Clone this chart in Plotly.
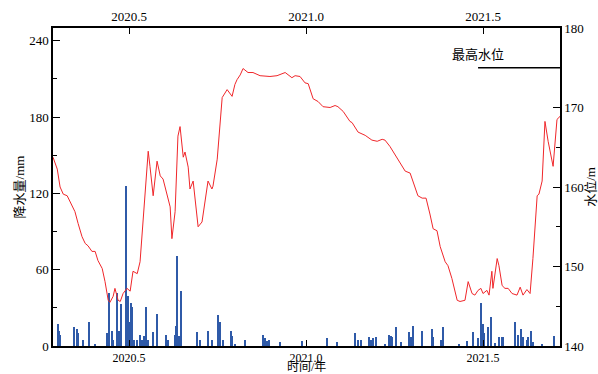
import plotly.graph_objects as go

# ---- water level (m), time in decimal years ----
level_t = [2020.285, 2020.297, 2020.305, 2020.314, 2020.325, 2020.333, 2020.347, 2020.356, 2020.367, 2020.376,
           2020.384, 2020.395, 2020.404, 2020.412, 2020.424, 2020.432, 2020.441, 2020.446, 2020.455, 2020.460,
           2020.469, 2020.475, 2020.483, 2020.494, 2020.503, 2020.511, 2020.523, 2020.531, 2020.540, 2020.551,
           2020.554, 2020.559, 2020.568, 2020.579, 2020.588, 2020.596, 2020.607, 2020.616, 2020.621, 2020.630,
           2020.638, 2020.644, 2020.653, 2020.658, 2020.667, 2020.672, 2020.681, 2020.692, 2020.695, 2020.706,
           2020.715, 2020.723, 2020.734, 2020.737, 2020.749, 2020.757, 2020.763, 2020.777, 2020.791, 2020.799,
           2020.805, 2020.814, 2020.822, 2020.836, 2020.850, 2020.870, 2020.898, 2020.918, 2020.941, 2020.960,
           2020.969, 2020.983, 2020.997, 2021.006, 2021.020, 2021.034, 2021.048, 2021.068, 2021.082, 2021.090,
           2021.105, 2021.124, 2021.130, 2021.147, 2021.167, 2021.186, 2021.201, 2021.215, 2021.223, 2021.237,
           2021.251, 2021.266, 2021.280, 2021.294, 2021.302, 2021.316, 2021.328, 2021.339, 2021.350, 2021.359,
           2021.370, 2021.379, 2021.393, 2021.401, 2021.412, 2021.427, 2021.435, 2021.449, 2021.458, 2021.469,
           2021.477, 2021.486, 2021.494, 2021.500, 2021.511, 2021.517, 2021.525, 2021.528, 2021.540, 2021.545,
           2021.554, 2021.562, 2021.571, 2021.582, 2021.596, 2021.605, 2021.613, 2021.624, 2021.633, 2021.641,
           2021.653, 2021.658, 2021.667, 2021.675, 2021.684, 2021.689, 2021.698, 2021.709, 2021.718, 2021.723]
level_m = [163.75, 162.25, 160.0, 159.1, 158.9, 158.1, 156.9, 155.4, 153.75, 152.9,
           152.6, 151.9, 151.9, 150.75, 149.75, 148.1, 145.75, 145.5, 146.25, 147.25,
           145.75, 145.6, 146.6, 147.25, 146.9, 149.4, 149.1, 150.6, 156.0, 163.5,
           164.5, 162.6, 158.9, 163.25, 161.4, 161.0, 159.1, 157.5, 153.5, 156.9,
           166.4, 167.6, 163.75, 164.4, 162.5, 159.75, 160.75, 156.0, 155.0, 155.6,
           158.1, 160.75, 159.75, 160.1, 163.5, 168.5, 171.25, 172.25, 171.4, 172.9,
           173.5, 174.1, 174.9, 174.4, 174.4, 174.0, 173.9, 174.0, 174.4, 173.75,
           174.0, 173.9, 173.1, 173.0, 171.1, 170.75, 170.1, 170.0, 170.25, 170.1,
           169.5, 168.25, 168.1, 166.9, 166.5, 165.9, 165.75, 166.0, 165.9, 165.1,
           164.1, 163.1, 162.0, 161.75, 160.6, 158.9, 158.6, 158.6, 156.6, 154.75,
           154.5, 152.5, 150.6, 150.1, 148.5, 145.75, 145.6, 145.75, 148.1, 146.6,
           146.4, 147.0, 147.25, 146.6, 147.0, 146.4, 149.4, 147.25, 151.0, 150.1,
           147.6, 147.25, 147.25, 146.6, 146.4, 147.4, 146.4, 147.1, 146.6, 151.0,
           158.9, 159.1, 160.75, 168.25, 165.75, 164.75, 162.6, 168.5, 168.9, 168.5]

# ---- precipitation (mm) ----
rain_t = [2020.299, 2020.302, 2020.305, 2020.345, 2020.353, 2020.356, 2020.370, 2020.387, 2020.404, 2020.438,
          2020.444, 2020.452, 2020.455, 2020.466, 2020.472, 2020.477, 2020.492, 2020.497, 2020.500, 2020.506,
          2020.508, 2020.514, 2020.523, 2020.531, 2020.537, 2020.542, 2020.548, 2020.554, 2020.568, 2020.579,
          2020.605, 2020.610, 2020.630, 2020.633, 2020.636, 2020.641, 2020.647, 2020.692, 2020.701, 2020.723,
          2020.734, 2020.751, 2020.757, 2020.766, 2020.788, 2020.791, 2020.799, 2020.828, 2020.879, 2020.884,
          2020.890, 2020.895, 2020.927, 2020.989, 2021.059, 2021.088, 2021.138, 2021.147, 2021.155, 2021.178,
          2021.184, 2021.189, 2021.198, 2021.223, 2021.234, 2021.240, 2021.243, 2021.254, 2021.268, 2021.291,
          2021.297, 2021.302, 2021.328, 2021.356, 2021.359, 2021.381, 2021.387, 2021.432, 2021.455, 2021.472,
          2021.486, 2021.494, 2021.500, 2021.503, 2021.514, 2021.523, 2021.534, 2021.545, 2021.556, 2021.590,
          2021.599, 2021.607, 2021.613, 2021.624, 2021.627, 2021.636, 2021.641, 2021.667, 2021.701]
rain_mm = [17, 12, 9, 15, 13, 10, 5, 19, 1, 10,
           42, 12, 5, 42, 12, 33, 126, 39, 19, 34,
           31, 5, 5, 9, 5, 8, 31, 5, 11, 25,
           9, 5, 9, 16, 71, 8, 43, 11, 5, 12,
           5, 24, 19, 5, 12, 8, 1, 5, 9, 6,
           4, 5, 3, 4, 6, 3, 10, 5, 5, 7,
           5, 6, 7, 1, 9, 8, 7, 15, 3, 11,
           7, 16, 12, 13, 7, 5, 15, 1, 4, 11,
           6, 34, 17, 10, 15, 23, 2, 7, 7, 19,
           9, 13, 7, 5, 7, 12, 3, 1, 8]

max_level = 175
max_level_label = "最高水位"
max_level_start = 2021.486

x_range = [2020.285, 2021.7175]
x_ticks = [2020.5, 2021.0, 2021.5]
x_ticktext = ["2020.5", "2021.0", "2021.5"]
rain_ticks = [0, 60, 120, 180, 240]
level_ticks = [140, 150, 160, 170, 180]

FONT = "Liberation Serif, Noto Sans CJK SC, serif"
BLUE = "#2f5aa8"
RED = "#f0262a"

fig = go.Figure()
fig.add_trace(go.Bar(x=rain_t, y=rain_mm, width=0.0048, marker=dict(color=BLUE, line=dict(width=0)),
                     xaxis="x", yaxis="y", showlegend=False))
fig.add_trace(go.Scatter(x=level_t, y=level_m, mode="lines", line=dict(color=RED, width=1),
                         xaxis="x2", yaxis="y2", showlegend=False))

axis_common = dict(showgrid=False, zeroline=False, showline=True, linecolor="black", linewidth=1.5,
                   ticks="inside", tickcolor="black", tickwidth=1.2, automargin=False)

tf13 = dict(family=FONT, size=13, color="black")

fig.update_layout(
    width=598, height=374,
    margin=dict(l=53, r=38, t=28, b=28),
    paper_bgcolor="white", plot_bgcolor="white",
    font=dict(family=FONT, size=13, color="black"),
    bargap=0,
    xaxis=dict(range=x_range, tickvals=x_ticks, ticktext=x_ticktext, ticklen=6,
               tickfont=dict(family=FONT, size=12, color="black"), anchor="y", **axis_common),
    xaxis2=dict(range=x_range, tickvals=x_ticks, ticktext=x_ticktext, ticklen=6, tickfont=tf13,
                overlaying="x", side="top", anchor="y2", **axis_common),
    yaxis=dict(range=[0, 250], tickvals=rain_ticks, ticklen=7, tickfont=tf13,
               minor=dict(ticks="inside", ticklen=4, dtick=30, tick0=30, tickcolor="black", tickwidth=1.2),
               title=dict(text="降水量/mm", standoff=2, font=dict(family=FONT, size=13)),
               anchor="x", **axis_common),
    yaxis2=dict(range=[140, 180], tickvals=level_ticks, ticklen=7, tickfont=tf13,
                minor=dict(ticks="inside", ticklen=4, dtick=5, tick0=145, tickcolor="black", tickwidth=1.2),
                title=dict(text="水位/m", standoff=6, font=dict(family=FONT, size=13)),
                overlaying="y", side="right", anchor="x2", **axis_common),
)

fig.add_annotation(xref="paper", yref="paper", x=0.5, y=0, yshift=-29, yanchor="bottom", borderpad=0,
                   text="时间/年", showarrow=False, font=dict(family=FONT, size=12, color="black"))
fig.add_shape(type="line", xref="x2", yref="y2", x0=max_level_start, x1=x_range[1],
              y0=max_level, y1=max_level, line=dict(color="black", width=1.5))
fig.add_annotation(xref="x2", yref="y2", x=max_level_start, y=max_level, text=max_level_label,
                   showarrow=False, yshift=13, font=dict(family=FONT, size=13, color="black"))

fig.write_html("out.html")
